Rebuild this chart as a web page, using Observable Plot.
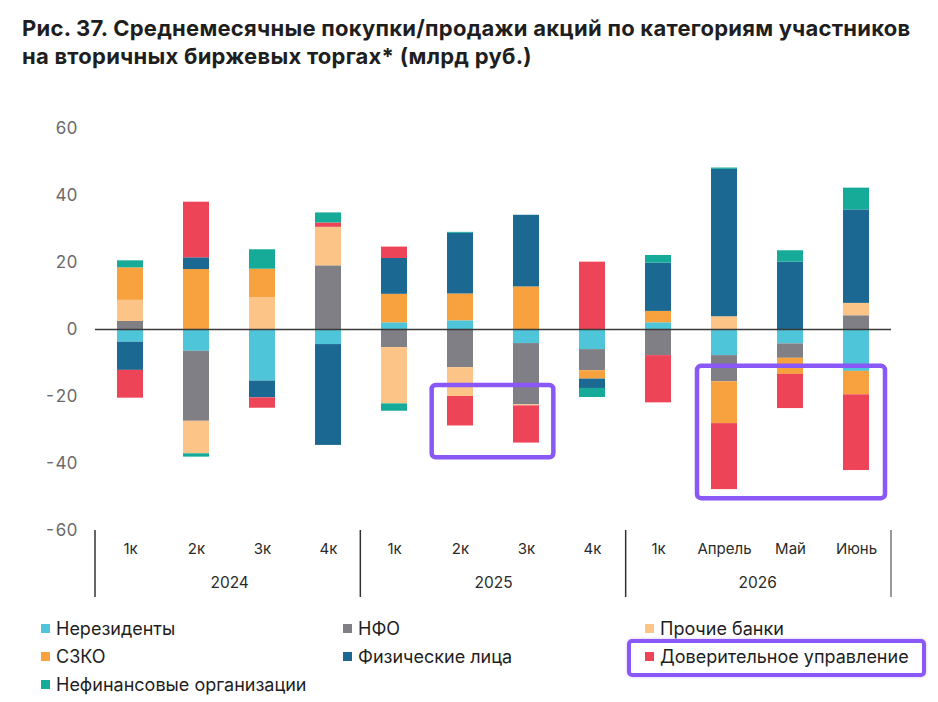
<!DOCTYPE html>
<html>
<head>
<meta charset="utf-8">
<script src="https://cdn.jsdelivr.net/npm/d3@7"></script>
<script src="https://cdn.jsdelivr.net/npm/@observablehq/plot@0.6"></script>
<style>
  html, body { margin: 0; padding: 0; background: #fff; }
  body { width: 938px; height: 702px; position: relative; overflow: hidden; font-family: Inter, "Noto Sans", sans-serif; }
  #title { position: absolute; left: 22px; top: 14px; font-size: 22px; font-weight: 700; line-height: 28px; color: #1e1e1e; letter-spacing: 0.25px; white-space: nowrap; }
  #chart { position: absolute; left: 0; top: 100px; }
  .item { position: absolute; display: flex; align-items: center; font-size: 18px; color: #1e1e1e; height: 28px; white-space: nowrap; }
  .sw { width: 9px; height: 9px; margin-right: 6px; flex: none; }
  #lbox { position: absolute; left: 627px; top: 639px; width: 291px; height: 30px; border: 4px solid #8a58f6; border-radius: 5px; box-shadow: 0 0 3px rgba(138,88,246,0.4); }
</style>
</head>
<body>
<div id="title">Рис. 37. Среднемесячные покупки/продажи акций по категориям участников<br>на вторичных биржевых торгах* (млрд руб.)</div>
<div id="chart"></div>
<div id="legend"></div>
<div id="lbox"></div>
<script>
// ---- data ----
const years = ["2024","2024","2024","2024","2025","2025","2025","2025","2026","2026","2026","2026"];
const periods = ["1к","2к","3к","4к","1к","2к","3к","4к","1к","Апрель","Май","Июнь"];
const yearLabels = ["2024","2025","2026"];
const seriesNames = ["Нерезиденты","НФО","Прочие банки","СЗКО","Физические лица","Доверительное управление","Нефинансовые организации"];
const seriesColors = ["#4fc5d9","#7f7f85","#fdc487","#f7a23e","#1b6892","#ee4457","#15ab98"];
const nonresidents = [-3.8, -6.5, -15.4, -4.5, 2.0, 2.6, -4.2, -6.0, 2.0, -7.8, -4.3, -12.5];
const nfo          = [2.4, -20.9, 0, 19.0, -5.4, -11.4, -18.3, -6.3, -7.8, -7.8, -4.3, 4.1];
const otherBanks   = [6.3, -9.7, 9.5, 11.5, -16.8, -8.6, -0.3, 0, 0, 3.8, 0, 3.7];
const szko         = [9.7, 17.9, 8.5, 0, 8.5, 8.0, 12.7, -2.5, 3.4, -12.5, -4.8, -7.0];
const individuals  = [-8.4, 3.5, -5.0, -30.1, 10.7, 18.1, 21.4, -2.8, 14.4, 44.0, 20.1, 27.9];
const trust        = [-8.3, 16.6, -3.1, 1.3, 3.4, -8.8, -11.1, 20.1, -14.1, -19.7, -10.2, -22.6];
const nonfin       = [2.1, -1.0, 5.8, 3.0, -2.2, 0.3, 0, -2.7, 2.3, 0.4, 3.4, 6.5];
const yTicks = [-60, -40, -20, 0, 20, 40, 60];
// highlighted regions: [first key, last key, y top, y bottom]
const highlights = [
  ["2025|2к", "2025|3к", -16.7, -38.3],
  ["2026|Апрель", "2026|Июнь", -11, -50.5]
];

const seriesValues = [nonresidents, nfo, otherBanks, szko, individuals, trust, nonfin];
const keys = periods.map((p, i) => years[i] + "|" + p);
const rows = [];
seriesNames.forEach((s, si) => {
  seriesValues[si].forEach((v, i) => rows.push({key: keys[i], series: s, value: v}));
});
const labelRows = keys.map((k, i) => ({key: k, label: periods[i]}));
const yearRows = yearLabels.map(y => ({key: keys[years.indexOf(y) + 1], label: y}));

const W = 938, ML = 95, MR = 47;
const step = (W - ML - MR) / keys.length;

const chart = Plot.plot({
  width: W,
  height: 500,
  marginTop: 28,
  marginBottom: 70,
  marginLeft: ML,
  marginRight: MR,
  style: {fontFamily: "Inter, sans-serif", background: "transparent", overflow: "visible"},
  x: {domain: keys, paddingInner: 0.6, paddingOuter: 0.3, axis: null},
  y: {domain: [-60, 60], ticks: yTicks, label: null},
  color: {domain: seriesNames, range: seriesColors},
  marks: [
    Plot.gridY(yTicks, {stroke: "#e4e4e4", strokeOpacity: 1, strokeWidth: 1.5, x1: ML, x2: W - MR + 2}),
    Plot.axisY(yTicks, {tickSize: 0, tickPadding: 18, fontSize: 17, fill: "#6a6a6a", label: null, tickFormat: d => String(d)}),
    Plot.barY(rows, {x: "key", y: "value", fill: "series"}),
    Plot.ruleY([0], {stroke: "#3a3a3a", strokeWidth: 1.5}),
    Plot.text(labelRows, {x: "key", text: "label", frameAnchor: "bottom", dy: 23, fontSize: 15, fill: "#2a2a2a"}),
    Plot.text(yearRows, {x: "key", text: "label", frameAnchor: "bottom", dy: 57, dx: step / 2, fontSize: 15.5, fill: "#2a2a2a"})
  ]
});
document.getElementById("chart").appendChild(chart);

// axis group separators and highlight boxes, positioned through the chart's scales
const sx = chart.scale("x"), sy = chart.scale("y");
const [r0, r1] = sx.range;
const cell = (r1 - r0) / keys.length;
const svg = d3.select(chart);
const sepIdx = [0];
yearLabels.forEach(y => sepIdx.push(years.lastIndexOf(y) + 1));
svg.append("g").selectAll("line").data(sepIdx).join("line")
  .attr("x1", i => r0 + i * cell).attr("x2", i => r0 + i * cell)
  .attr("y1", sy.apply(-60)).attr("y2", sy.apply(-60) + 67)
  .attr("stroke", i => i === keys.length ? "#777" : "#333").attr("stroke-width", 1.5);
svg.append("g").selectAll("rect").data(highlights).join("rect")
  .attr("x", d => r0 + keys.indexOf(d[0]) * cell + 5)
  .attr("width", d => (keys.indexOf(d[1]) - keys.indexOf(d[0]) + 1) * cell - 11)
  .attr("y", d => sy.apply(d[2]))
  .attr("height", d => sy.apply(d[3]) - sy.apply(d[2]))
  .attr("rx", 4)
  .attr("fill", "none").attr("stroke", "#8a58f6").attr("stroke-width", 4.5);

// legend
const colLeft = [41, 343, 645];
const legend = document.getElementById("legend");
seriesNames.forEach((s, i) => {
  const d = document.createElement("div");
  d.className = "item";
  d.style.left = colLeft[i % 3] + "px";
  d.style.top = (614 + Math.floor(i / 3) * 28) + "px";
  d.innerHTML = `<span class="sw" style="background:${seriesColors[i]}"></span><span>${s}</span>`;
  legend.appendChild(d);
});
</script>
</body>
</html>
